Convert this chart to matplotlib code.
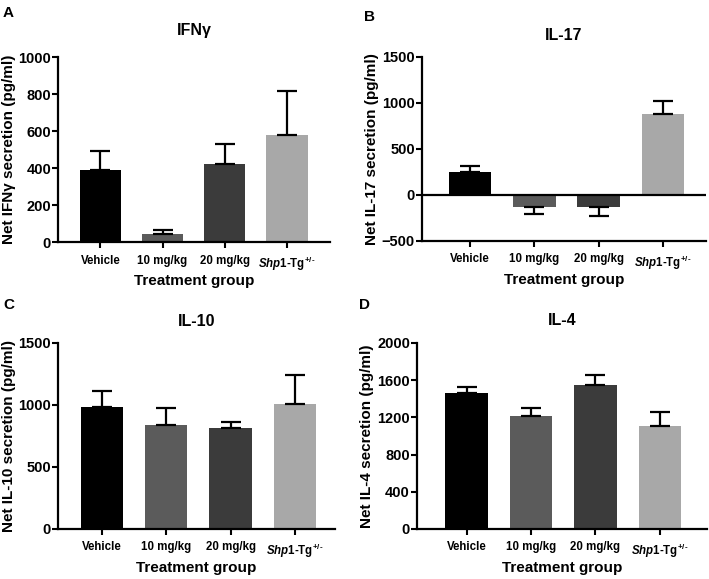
import matplotlib
matplotlib.use("Agg")
import matplotlib.pyplot as plt

plt.rcParams['font.family'] = ['Liberation Sans', 'DejaVu Sans']
plt.rcParams['font.weight'] = 'bold'
plt.rcParams['mathtext.fontset'] = 'custom'
plt.rcParams['mathtext.rm'] = 'Liberation Sans:bold'
plt.rcParams['mathtext.bf'] = 'Liberation Sans:bold'
plt.rcParams['mathtext.it'] = 'Liberation Sans:italic:bold'
plt.rcParams['mathtext.bfit'] = 'Liberation Sans:italic:bold'

groups = ['Vehicle', '10 mg/kg', '20 mg/kg', r'$\mathit{Shp1}$-Tg$^{+/\text{-}}$']
bar_colors = ['#000000', '#5b5b5b', '#3b3b3b', '#a8a8a8']

# IFNg
ifng_mean = [390, 43, 420, 580]
ifng_err = [104, 23, 108, 237]
# IL-17
il17_mean = [246, -126, -134, 878]
il17_err = [68, 76, 94, 141]
# IL-10
il10_mean = [983, 838, 811, 1010]
il10_err = [132, 137, 48, 234]
# IL-4
il4_mean = [1462, 1219, 1548, 1104]
il4_err = [61, 82, 108, 154]

W, H = 709, 579
fig = plt.figure(figsize=(W / 100, H / 100), dpi=100)


def panel(rect, letter, letter_xy, title, title_pad, xlabel_gap, ylabel, means, errs,
          ylim, yticks, xlim, zero_line=False):
    ax = fig.add_axes(rect)
    x = range(len(means))
    ax.bar(x, means, width=0.66, color=bar_colors, zorder=2)
    for xi, m, e in zip(x, means, errs):
        lo, hi = ([0], [e]) if m >= 0 else ([e], [0])
        ax.errorbar(xi, m, yerr=[lo, hi], fmt='none', ecolor='black',
                    elinewidth=1.6, capsize=7.5, capthick=1.6, zorder=3)
    if zero_line:
        ax.axhline(0, color='black', lw=1.6, zorder=4)
    ax.set_ylim(*ylim)
    ax.set_xlim(*xlim)
    ax.set_yticks(yticks)
    ax.set_xticks(list(x))
    ax.set_xticklabels(groups, fontsize=8.3, fontweight='bold')
    ax.tick_params(axis='y', labelsize=10.5, width=1.5, length=4, pad=1)
    ax.tick_params(axis='x', width=1.5, length=4, pad=5)
    for lbl in ax.get_yticklabels():
        lbl.set_fontweight('bold')
    for s in ['top', 'right']:
        ax.spines[s].set_visible(False)
    for s in ['left', 'bottom']:
        ax.spines[s].set_linewidth(1.6)
    ax.set_ylabel(ylabel, fontsize=11, fontweight='bold', labelpad=2)
    ax.set_xlabel('Treatment group', fontsize=11, fontweight='bold')
    ax.xaxis.set_label_coords(0.5, -xlabel_gap / (rect[3] * H))
    ax.set_title(title, fontsize=11.5, fontweight='bold', pad=title_pad)
    fig.text(letter_xy[0] / W, 1 - letter_xy[1] / H, letter, fontsize=11,
             fontweight='bold', ha='left', va='center')
    return ax


panel([0.0818, 0.582, 0.3836, 0.3195], 'A', (3, 13), 'IFNγ', 16, 32,
      'Net IFNγ secretion (pg/ml)',
      ifng_mean, ifng_err, (0, 1000), [0, 200, 400, 600, 800, 1000], (-0.68, 3.69))
panel([0.595, 0.5838, 0.4006, 0.3178], 'B', (364, 17), 'IL-17', 12, 32,
      'Net IL-17 secretion (pg/ml)',
      il17_mean, il17_err, (-500, 1500), [-500, 0, 500, 1000, 1500], (-0.75, 3.67),
      zero_line=True)
panel([0.0818, 0.0864, 0.3907, 0.3212], 'C', (3, 305), 'IL-10', 12, 32,
      'Net IL-10 secretion (pg/ml)',
      il10_mean, il10_err, (0, 1500), [0, 500, 1000, 1500], (-0.68, 3.62))
panel([0.588, 0.0864, 0.409, 0.3212], 'D', (359, 305), 'IL-4', 13, 32,
      'Net IL-4 secretion (pg/ml)',
      il4_mean, il4_err, (0, 2000), [0, 400, 800, 1200, 1600, 2000], (-0.77, 3.73))

fig.savefig('out.png', dpi=100)
